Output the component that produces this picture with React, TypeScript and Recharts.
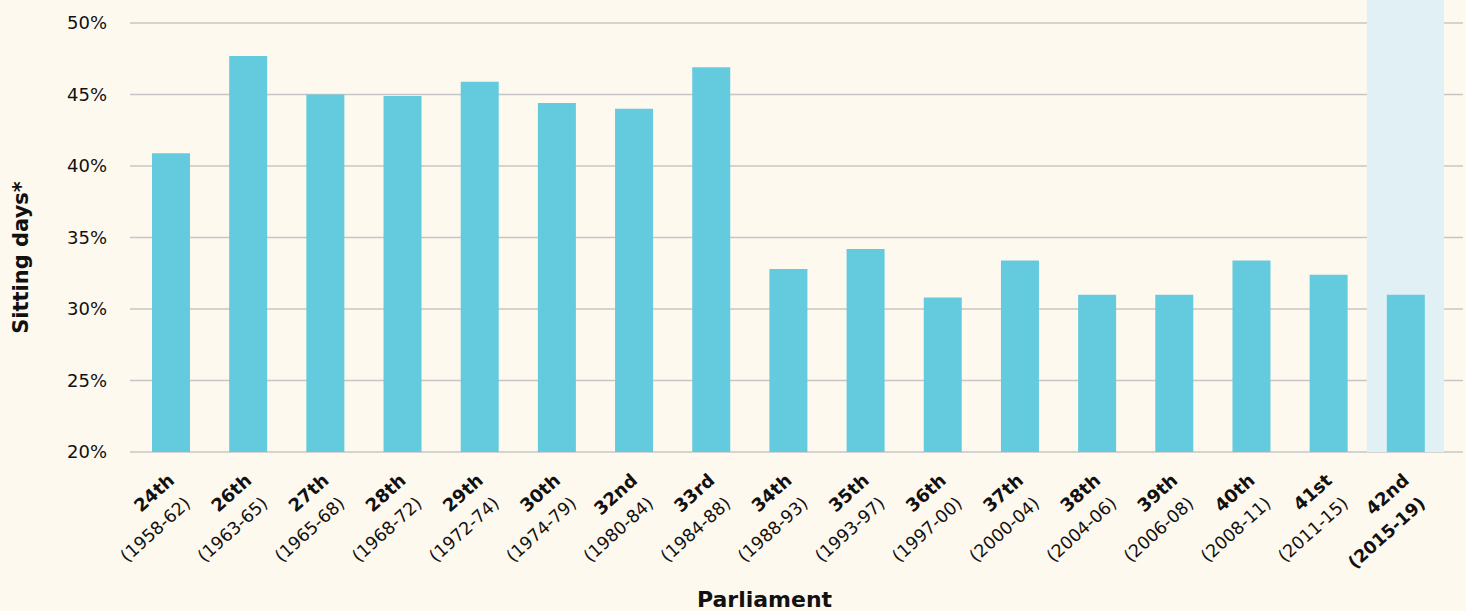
import { BarChart, Bar, XAxis, YAxis, CartesianGrid, ReferenceArea, Label } from 'recharts';

const parliaments = ['24th', '26th', '27th', '28th', '29th', '30th', '32nd', '33rd', '34th', '35th', '36th', '37th', '38th', '39th', '40th', '41st', '42nd'];
const years = ['1958-62', '1963-65', '1965-68', '1968-72', '1972-74', '1974-79', '1980-84', '1984-88', '1988-93', '1993-97', '1997-00', '2000-04', '2004-06', '2006-08', '2008-11', '2011-15', '2015-19'];
const sittingShare = [40.9, 47.7, 45.0, 44.9, 45.9, 44.4, 44.0, 46.9, 32.8, 34.2, 30.8, 33.4, 31.0, 31.0, 33.4, 32.4, 31.0];
const yTicks = [20, 25, 30, 35, 40, 45, 50];
const highlighted = '42nd';

const BG = '#FEF9EF';
const FONT = '"DejaVu Sans", sans-serif';
const ANGLE = -42;

document.body.style.margin = '0';
document.body.style.background = BG;

const data = parliaments.map((name, i) => ({ name, share: sittingShare[i] }));

function ParliamentTick({ x, y, payload }: any) {
  const i = parliaments.indexOf(payload.value);
  const strong = parliaments[i] === highlighted;
  const x1 = x + 5;
  const y1 = y + 22;
  const x2 = x1 + 16;
  const y2 = y1 + 23;
  return (
    <g>
      <text transform={`translate(${x1},${y1}) rotate(${ANGLE})`} textAnchor="end" fontFamily={FONT} fontSize={18} fontWeight="bold" fill="#111">
        {parliaments[i]}
      </text>
      <text transform={`translate(${x2},${y2}) rotate(${ANGLE})`} textAnchor="end" fontFamily={FONT} fontSize={17.5} fontWeight={strong ? 'bold' : 'normal'} fill="#111">
        ({years[i]})
      </text>
    </g>
  );
}

export default function App() {
  return (
    <div style={{ background: BG, width: 1466, height: 611 }}>
      <BarChart width={1466} height={611} data={data} margin={{ top: 23, right: 3, bottom: 0, left: 0 }}>
        <ReferenceArea x1={highlighted} x2={highlighted} y1={20} y2={51.6} fill="#E0F0F4" fillOpacity={1} ifOverflow="visible" />
        <CartesianGrid vertical={false} stroke="#C6C6C6" strokeWidth={1.5} />
        <XAxis
          dataKey="name"
          interval={0}
          height={159}
          padding={{ left: 2, right: 19 }}
          axisLine={false}
          tickLine={false}
          tick={<ParliamentTick />}
        >
          <Label
            content={({ viewBox }: any) => (
              <text x={viewBox.x + viewBox.width / 2 - 32} y={viewBox.y + 155} textAnchor="middle" fontFamily={FONT} fontSize={22} fontWeight="bold" fill="#111">
                Parliament
              </text>
            )}
          />
        </XAxis>
        <YAxis
          width={130}
          domain={[20, 50]}
          ticks={yTicks}
          allowDataOverflow
          axisLine={false}
          tickLine={false}
          tickMargin={17}
          tickFormatter={(v) => `${v}%`}
          tick={{ fontFamily: FONT, fontSize: 18, fill: '#111' }}
        >
          <Label
            content={({ viewBox }: any) => {
              const cx = viewBox.x + 21;
              const cy = viewBox.y + viewBox.height / 2 + 20;
              return (
                <text x={cx} y={cy} transform={`rotate(-90,${cx},${cy})`} textAnchor="middle" dominantBaseline="central" fontFamily={FONT} fontSize={21} fontWeight="bold" fill="#111">
                  Sitting days*
                </text>
              );
            }}
          />
        </YAxis>
        <Bar dataKey="share" fill="#64CADD" barSize={38} isAnimationActive={false} />
      </BarChart>
    </div>
  );
}
